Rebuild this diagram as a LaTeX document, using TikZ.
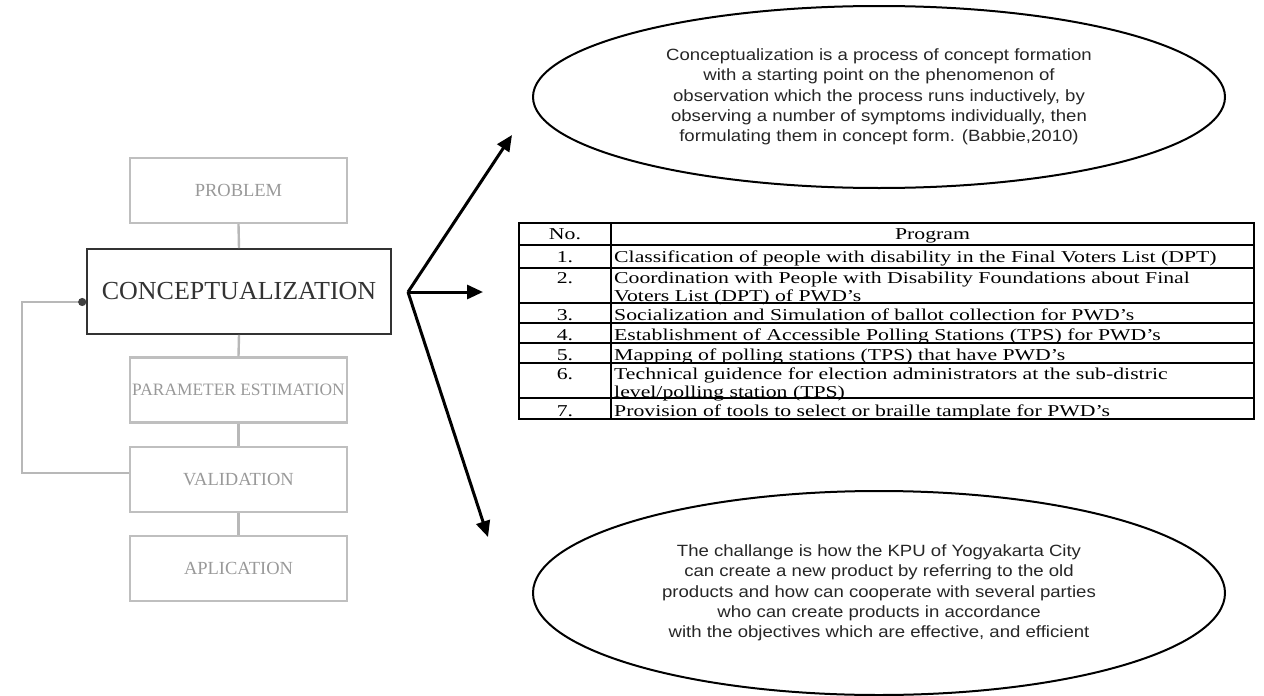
\documentclass[tikz,border=0pt]{standalone}
\usepackage{fontspec}
\setmainfont{Liberation Serif}
\newfontfamily\tabf[FakeStretch=1.31]{Liberation Serif}
\newfontfamily\ovalf[FakeStretch=1.14]{Liberation Sans}
\usetikzlibrary{shapes.geometric,arrows.meta}
\begin{document}
\begin{tikzpicture}[x=1pt,y=-1pt,
  graybox/.style={draw=black!25, line width=2.2pt, minimum width=217pt, minimum height=65pt, inner sep=0pt, text=black!40, font=\fontsize{18.5}{20}\selectfont},
  grayline/.style={draw=black!28, line width=2.4pt},
  mainbox/.style={draw=black!80, line width=1.6pt, minimum width=304pt, minimum height=85pt, inner sep=0pt, text=black!80, font=\fontsize{26}{28}\selectfont},
  bigarrow/.style={line width=3pt, line join=miter, -{Triangle[length=16pt,width=14pt]}},
  oval/.style={draw, ellipse, line width=2pt, minimum width=692pt, inner sep=0pt, align=center, text=black!85, font=\ovalf\fontsize{16.3}{20.3}\selectfont},
  cell/.style={inner sep=0pt, font=\tabf\fontsize{16.6}{18}\selectfont},
  tline/.style={line width=2pt}
]
\useasboundingbox (0,0) rectangle (1264,696);

% left flowchart
\node[graybox] (prob) at (238.5,190.5) {PROBLEM};
\node[mainbox] (conc) at (239,291.5) {CONCEPTUALIZATION};
\node[graybox, font=\fontsize{17.4}{20}\selectfont] (param) at (238.5,390) {PARAMETER ESTIMATION};
\node[graybox] (valid) at (238.5,479.5) {VALIDATION};
\node[graybox] (apli) at (238.5,568.5) {APLICATION};
\draw[grayline] (prob.south) -- (conc.north);
\draw[grayline] (conc.south) -- (param.north);
\draw[grayline] (param.south) -- (valid.north);
\draw[grayline] (valid.south) -- (apli.north);
\coordinate (fbtop) at (22,302);
\coordinate (fbbot) at (22,473);
\draw[grayline, -{Circle[length=8pt,color=black!75]}] (valid.west |- fbbot) -- (fbbot) -- (fbtop) -- (conc.west |- fbtop);

% arrows
\coordinate (hub) at (408,292);
\coordinate (tipA) at (512,135);
\coordinate (tipB) at (483,292);
\coordinate (tipC) at (488,537);
\draw[bigarrow] (hub) -- (tipA);
\draw[bigarrow] (hub) -- (tipB);
\draw[bigarrow] (hub) -- (tipC);

% ellipses
\node[oval, minimum height=182pt] (e1) at (879,97) {Conceptualization is a process of concept formation\\with a starting point on the phenomenon of\\observation which the process runs inductively, by\\observing a number of symptoms individually, then\\formulating them in concept form. (Babbie,2010)};
\node[oval, minimum height=204pt] (e2) at (879,593) {The challange is how the KPU of Yogyakarta City\\can create a new product by referring to the old\\products and how can cooperate with several parties\\who can create products in accordance\\with the objectives which are effective, and efficient};

% table
\draw[tline] (519,223) rectangle (1254,419);
\draw[tline] (611,223) -- (611,419);
\foreach \yy in {245,268,303,323,343,363,398} \draw[tline] (519,\yy) -- (1254,\yy);
\node[cell, anchor=base] (h1) at (565,239.5) {No.};
\node[cell, anchor=base] (h2) at (932.5,239.5) {Program};
\node[cell, anchor=base] (n1) at (565,262) {1.};
\node[cell, anchor=base] (n2) at (565,283.5) {2.};
\node[cell, anchor=base] (n3) at (565,320.5) {3.};
\node[cell, anchor=base] (n4) at (565,340.5) {4.};
\node[cell, anchor=base] (n5) at (565,360) {5.};
\node[cell, anchor=base] (n6) at (565,379) {6.};
\node[cell, anchor=base] (n7) at (565,416.5) {7.};
\node[cell, anchor=base west] (p1) at (614,262) {Classification of people with disability in the Final Voters List (DPT)};
\node[cell, anchor=base west, align=left] (p2) at (614,301.5) {Coordination with People with Disability Foundations about Final\\Voters List (DPT) of PWD’s};
\node[cell, anchor=base west] (p3) at (614,320.5) {Socialization and Simulation of ballot collection for PWD’s};
\node[cell, anchor=base west] (p4) at (614,340.5) {Establishment of Accessible Polling Stations (TPS) for PWD’s};
\node[cell, anchor=base west] (p5) at (614,360) {Mapping of polling stations (TPS) that have PWD’s};
\node[cell, anchor=base west, align=left] (p6) at (614,397) {Technical guidence for election administrators at the sub-distric\\level/polling station (TPS)};
\node[cell, anchor=base west] (p7) at (614,416.5) {Provision of tools to select or braille tamplate for PWD’s};
\end{tikzpicture}
\end{document}
